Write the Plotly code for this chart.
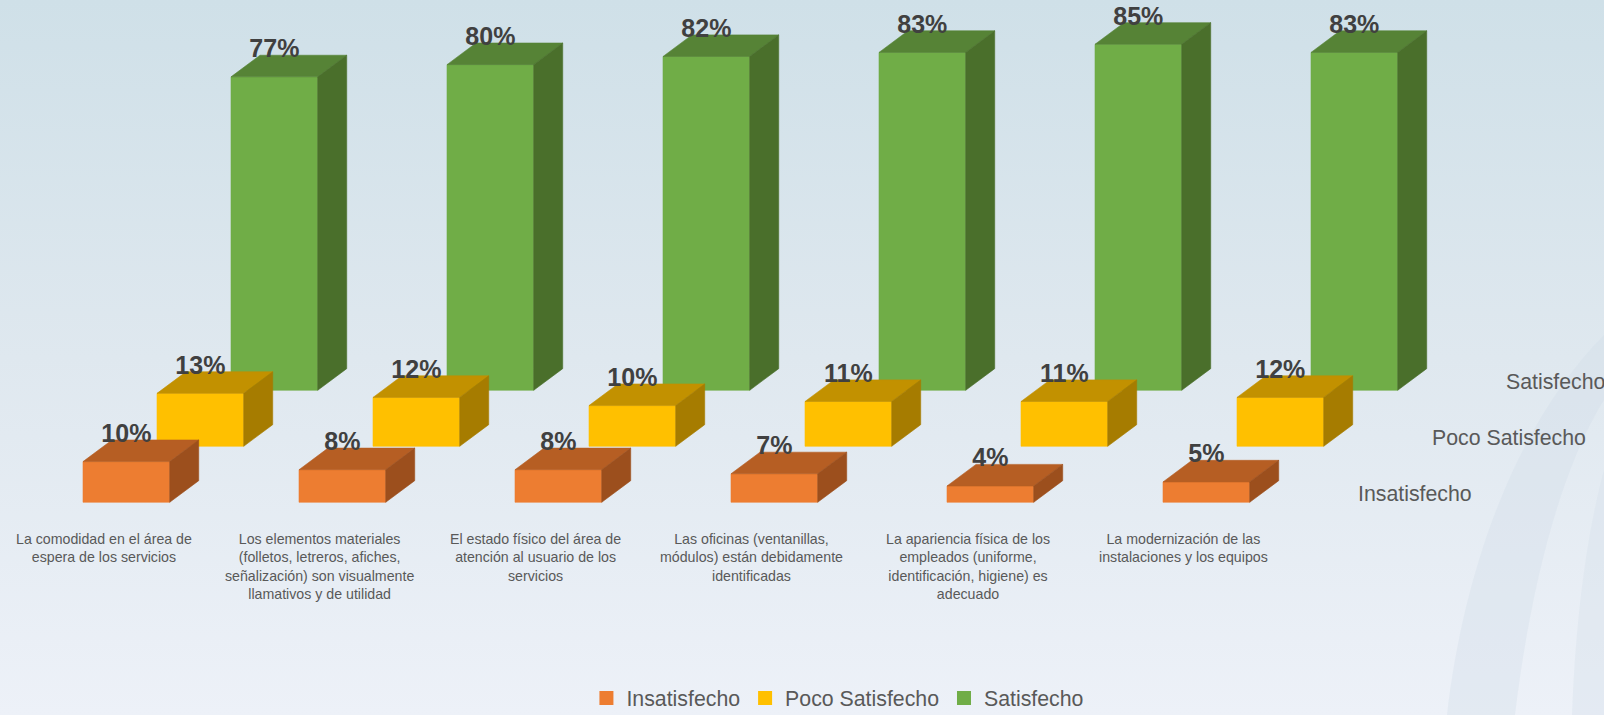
import base64
import plotly.graph_objects as go

# ---------------- data ----------------
categories = [
    "La comodidad en el área de<br>espera de los servicios",
    "Los elementos materiales<br>(folletos, letreros, afiches,<br>señalización) son visualmente<br>llamativos y de utilidad",
    "El estado físico del área de<br>atención al usuario de los<br>servicios",
    "Las oficinas (ventanillas,<br>módulos) están debidamente<br>identificadas",
    "La apariencia física de los<br>empleados (uniforme,<br>identificación, higiene) es<br>adecuado",
    "La modernización de las<br>instalaciones y los equipos",
]
series_names = ["Insatisfecho", "Poco Satisfecho", "Satisfecho"]
insatisfecho = [10, 8, 8, 7, 4, 5]
poco_satisfecho = [13, 12, 10, 11, 11, 12]
satisfecho = [77, 80, 82, 83, 85, 83]
series_values = [insatisfecho, poco_satisfecho, satisfecho]

# ---------------- styling ----------------
front_colors = ["#ED7D31", "#FFC000", "#70AD47"]
top_colors = ["#B65E23", "#C29100", "#568336"]
side_colors = ["#9C4F1D", "#A67C00", "#4A6F2B"]

HALF_W = 0.2007   # half bar width (category units)
DEPTH_X = 0.1343  # oblique depth of a bar, x
DEPTH_Y = 5.31    # oblique depth of a bar, y (percent units)
ROW_X = 0.3426    # shift of each series row (depth axis), x
ROW_Y = 13.76     # shift of each series row, y

W, H = 1604, 715

fig = go.Figure()

# draw back rows first so front rows overlap them
for j in reversed(range(len(series_names))):
    vals = series_values[j]
    fx, fy, tx, ty, sx, sy = [], [], [], [], [], []
    lx, ly, lt = [], [], []
    base = j * ROW_Y
    for i, v in enumerate(vals):
        c = i + j * ROW_X
        x0, x1 = c - HALF_W, c + HALF_W
        y0, y1 = base, base + v
        fx += [x0, x1, x1, x0, x0, None]
        fy += [y0, y0, y1, y1, y0, None]
        tx += [x0, x1, x1 + DEPTH_X, x0 + DEPTH_X, x0, None]
        ty += [y1, y1, y1 + DEPTH_Y, y1 + DEPTH_Y, y1, None]
        sx += [x1, x1 + DEPTH_X, x1 + DEPTH_X, x1, x1, None]
        sy += [y0, y0 + DEPTH_Y, y1 + DEPTH_Y, y1, y0, None]
        lx.append(c)
        ly.append(y1 + 6.4)
        lt.append(f"{v}%")
    for xs, ys, col in ((fx, fy, front_colors[j]), (tx, ty, top_colors[j]), (sx, sy, side_colors[j])):
        fig.add_trace(go.Scatter(
            x=xs, y=ys, mode="lines", fill="toself", fillcolor=col,
            line=dict(width=0.6, color=col), hoverinfo="skip", showlegend=False,
        ))
    fig.add_trace(go.Scatter(
        x=lx, y=ly, mode="text", text=lt, textposition="middle center",
        textfont=dict(family="Liberation Sans, Arial, sans-serif", size=25, color="#404040", weight="bold"),
        hoverinfo="skip", showlegend=False,
    ))

# legend entries
for j, name in enumerate(series_names):
    fig.add_trace(go.Scatter(
        x=[None], y=[None], mode="markers", name=name,
        marker=dict(symbol="square", size=14, color=front_colors[j]),
    ))

# category labels
for i, cat in enumerate(categories):
    fig.add_annotation(
        x=i - 0.105, y=-6.6, text=cat, showarrow=False, xanchor="center", yanchor="top",
        align="center", font=dict(family="Liberation Sans, Arial, sans-serif", size=14.2, color="#595959"),
    )

# depth-axis (series) labels
for j, name in enumerate(series_names):
    fig.add_annotation(
        x=5.691 + j * ROW_X, y=2.04 + j * ROW_Y, text=name, showarrow=False,
        xanchor="left", yanchor="middle",
        font=dict(family="Liberation Sans, Arial, sans-serif", size=21.3, color="#595959"),
    )

# background gradient with soft arcs
svg = f"""<svg xmlns='http://www.w3.org/2000/svg' width='{W}' height='{H}' viewBox='0 0 {W} {H}'>
<defs><linearGradient id='g' x1='0' y1='0' x2='0' y2='1'>
<stop offset='0' stop-color='#cfe0e8'/><stop offset='0.5' stop-color='#dfe8ef'/><stop offset='1' stop-color='#edf1f8'/>
</linearGradient></defs>
<rect width='{W}' height='{H}' fill='url(#g)'/>
<path d='M1604,335 C1520,420 1465,560 1447,715 L1515,715 C1530,590 1560,470 1604,400 Z' fill='#d2dde8' opacity='0.35'/>
<path d='M1604,470 C1585,540 1575,630 1572,715 L1604,715 Z' fill='#d6e1ea' opacity='0.4'/>
</svg>"""
src = "data:image/svg+xml;base64," + base64.b64encode(svg.encode("utf-8")).decode("ascii")

fig.update_layout(
    width=W, height=H,
    margin=dict(l=0, r=0, t=0, b=0, autoexpand=False),
    paper_bgcolor="#e3ebf1", plot_bgcolor="rgba(0,0,0,0)",
    images=[dict(source=src, xref="paper", yref="paper", x=0, y=1, sizex=1, sizey=1,
                 sizing="stretch", layer="below", xanchor="left", yanchor="top")],
    xaxis=dict(range=[-0.585, 6.841], visible=False, fixedrange=True),
    yaxis=dict(range=[-52.26, 123.4], visible=False, fixedrange=True),
    showlegend=True,
    legend=dict(orientation="h", x=0.5224, y=-0.005, xanchor="center", yanchor="bottom",
                bgcolor="rgba(0,0,0,0)", itemclick=False, itemdoubleclick=False,
                font=dict(family="Liberation Sans, Arial, sans-serif", size=21.3, color="#595959"),
                tracegroupgap=0),
)

post = (
    "document.documentElement.style.margin='0';"
    "document.documentElement.style.overflow='hidden';"
    "document.body.style.margin='0';"
    "document.body.style.overflow='hidden';"
    "document.body.style.height='715px';"
    "var d=document.getElementById('{plot_id}');"
    "d.style.display='block';"
    "if(d.parentNode){d.parentNode.style.height='715px';d.parentNode.style.overflow='hidden';}"
)

fig.write_html("out.html", config={"displayModeBar": False}, post_script=post)
